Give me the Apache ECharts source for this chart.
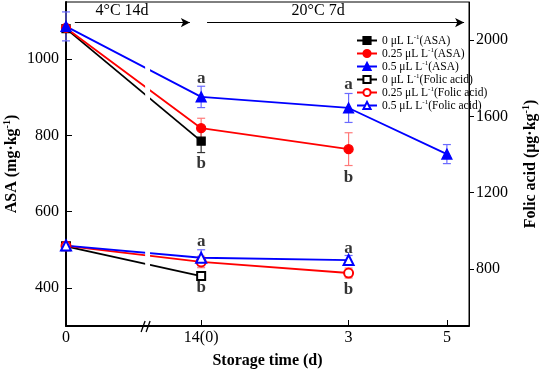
<!DOCTYPE html>
<html>
<head>
<meta charset="utf-8">
<script src="https://cdn.jsdelivr.net/npm/echarts@6/dist/echarts.min.js"></script>
<style>
  html, body { margin: 0; padding: 0; background: #fff; }
  #chart { width: 540px; height: 371px; }
</style>
</head>
<body>
<div id="chart"></div>
<script>
// broken time axis: 0 | 14(0) | 3 | 5  (axis units)
const xTicks = [0, 2.75, 5.75, 7.75];
const xTickLabels = ['0', '14(0)', '3', '5'];

// ASA, mg·kg-1 (left axis)
const asa0 = [1080, 785];
const asa025 = [1082, 819, 764];
const asa05 = [1086, 901, 872, 751];
const asa0Err = [0, 30];
const asa025Err = [0, 26, 43];
const asa05Err = [38, 28, 38, 25];

// Folic acid, µg·kg-1 (right axis)
const fa0 = [918, 762];
const fa025 = [920, 836, 778];
const fa05 = [922, 858, 846];
const fa0Err = [0, 8];
const fa025Err = [0, 30, 26];
const fa05Err = [0, 42, 24];

// significance letters: [x index, value, letter]
const asaLetters = [[1, 948, 'a'], [1, 727, 'b'], [2, 932, 'a'], [2, 688, 'b']];
const faLetters = [[1, 941, 'a'], [1, 700, 'b'], [2, 904, 'a'], [2, 689, 'b']];

const leftTicks = [400, 600, 800, 1000];
const rightTicks = [800, 1200, 1600, 2000];

const names = [
  '0 μL L-1(ASA)', '0.25 μL L-1(ASA)', '0.5 μL L-1(ASA)',
  '0 μL L-1(Folic acid)', '0.25 μL L-1(Folic acid)', '0.5 μL L-1(Folic acid)'
];

const FONT = 'Liberation Serif';
const BLACK = '#000000', RED = '#ff0000', BLUE = '#0000ff';

const chart = echarts.init(document.getElementById('chart'), null, { renderer: 'canvas' });

function pts(vals) {
  return vals.map((v, i) => [xTicks[i], v]);
}

function lineSeries(name, vals, color, symbol, size, axis) {
  return {
    name, type: 'line', yAxisIndex: axis, data: pts(vals),
    symbol, symbolSize: size, showSymbol: true, clip: false, z: 3,
    lineStyle: { color, width: 1.8 },
    itemStyle: { color, borderColor: color, borderWidth: 1.3 },
    emphasis: { disabled: true }
  };
}

function errorSeries(vals, errs, color, axis) {
  return {
    type: 'custom', yAxisIndex: axis, silent: true, z: 2,
    data: vals.map((v, i) => [xTicks[i], v - errs[i], v + errs[i], errs[i]]),
    renderItem: (params, api) => {
      if (!api.value(3)) return null;
      const lo = api.coord([api.value(0), api.value(1)]);
      const hi = api.coord([api.value(0), api.value(2)]);
      const w = 4;
      const st = { stroke: color, lineWidth: 1.2 };
      return {
        type: 'group', children: [
          { type: 'line', shape: { x1: lo[0], y1: lo[1], x2: hi[0], y2: hi[1] }, style: st },
          { type: 'line', shape: { x1: lo[0] - w, y1: lo[1], x2: lo[0] + w, y2: lo[1] }, style: st },
          { type: 'line', shape: { x1: hi[0] - w, y1: hi[1], x2: hi[0] + w, y2: hi[1] }, style: st }
        ]
      };
    }
  };
}

function letterSeries(list, axis) {
  return {
    type: 'scatter', yAxisIndex: axis, silent: true, symbolSize: 0,
    data: list.map(d => ({ value: [xTicks[d[0]], d[1]], label: { formatter: d[2] } })),
    label: { show: true, position: 'inside', color: '#000', fontFamily: FONT, fontSize: 17, fontWeight: 'bold' }
  };
}

// white gap in the lines plus the "//" break mark on the time axis
const breakSeries = {
  type: 'custom', silent: true, z: 10, yAxisIndex: 0,
  data: [[1.61, 1.71]],
  renderItem: (params, api) => {
    const a = api.coord([api.value(0), 1060]);
    const b = api.coord([api.value(1), 312]);
    const base = api.coord([(api.value(0) + api.value(1)) / 2, 300]);
    const cx = base[0] - 2;
    const st = { stroke: '#000', lineWidth: 1.3 };
    return {
      type: 'group', children: [
        { type: 'rect', shape: { x: a[0], y: a[1], width: b[0] - a[0], height: b[1] - a[1] }, style: { fill: '#fff' } },
        { type: 'line', shape: { x1: cx - 4.5, y1: base[1] + 6, x2: cx - 0.5, y2: base[1] - 5 }, style: st },
        { type: 'line', shape: { x1: cx + 0.5, y1: base[1] + 6, x2: cx + 4.5, y2: base[1] - 5 }, style: st }
      ]
    };
  }
};

const legendRich = {
  n: { fontFamily: FONT, fontSize: 11.5, color: '#000', lineHeight: 13 },
  sup: { fontFamily: FONT, fontSize: 7, color: '#000', verticalAlign: 'top', lineHeight: 13 }
};

const axisNameRich = {
  n: { fontFamily: FONT, fontSize: 16, fontWeight: 'bold', color: '#000', lineHeight: 20 },
  sup: { fontFamily: FONT, fontSize: 10, fontWeight: 'bold', color: '#000', verticalAlign: 'top', lineHeight: 20 }
};

const blueSeries = lineSeries(names[2], asa05, BLUE, 'triangle', 10, 0);
blueSeries.markLine = {
  silent: true, symbol: ['none', 'arrow'], symbolSize: [7, 9],
  lineStyle: { color: '#000', width: 1, type: 'solid' },
  label: { show: false },
  data: [
    [{ coord: [0.18, 1096] }, { coord: [2.52, 1096] }],
    [{ coord: [2.87, 1096] }, { coord: [8.1, 1096] }]
  ]
};
blueSeries.markPoint = {
  silent: true, symbol: 'rect', symbolSize: 0,
  label: { show: true, position: 'inside', color: '#000', fontFamily: FONT, fontSize: 16 },
  data: [
    { coord: [1.14, 1126], label: { formatter: '4°C 14d' } },
    { coord: [5.13, 1126], label: { formatter: '20°C 7d' } }
  ]
};

const option = {
  animation: false,
  backgroundColor: '#fff',
  grid: {
    left: 66, right: 71, top: 2, bottom: 45, containLabel: false, outerBoundsMode: 'none',
    show: true, borderColor: '#000', borderWidth: 1, backgroundColor: 'transparent'
  },
  legend: {
    data: names, orient: 'vertical', left: 351, top: 29,
    itemWidth: 20, itemHeight: 9, itemGap: 0.5,
    formatter: n => '{n|' + n.replace('-1', '}{sup|-1}{n|') + '}',
    textStyle: { rich: legendRich, fontFamily: FONT, fontSize: 11.5, color: '#000' }
  },
  xAxis: {
    type: 'value', min: 0, max: 8.2,
    name: 'Storage time (d)', nameLocation: 'middle', nameGap: 27, nameMoveOverlap: false,
    nameTextStyle: { fontFamily: FONT, fontSize: 16, fontWeight: 'bold', color: '#000' },
    axisLine: { show: true, onZero: false, lineStyle: { color: '#000', width: 2 } },
    axisTick: { show: true, inside: true, length: 6, customValues: xTicks.slice(1), lineStyle: { color: '#000', width: 1 } },
    axisLabel: {
      customValues: xTicks, color: '#000', fontFamily: FONT, fontSize: 16, margin: 4,
      formatter: v => {
        const i = xTicks.findIndex(t => Math.abs(t - v) < 1e-6);
        return i >= 0 ? xTickLabels[i] : '';
      }
    },
    splitLine: { show: false }
  },
  yAxis: [
    {
      type: 'value', min: 300, max: 1150, position: 'left',
      name: '{n|ASA (mg·kg}{sup|-1}{n|)}', nameLocation: 'middle', nameGap: 44, nameRotate: 90,
      nameMoveOverlap: false,
      nameTextStyle: { rich: axisNameRich },
      axisLine: { show: true, lineStyle: { color: '#000', width: 2 } },
      axisTick: { show: true, inside: true, length: 6, customValues: leftTicks, lineStyle: { color: '#000' } },
      axisLabel: { customValues: leftTicks, formatter: v => String(v), color: '#000', fontFamily: FONT, fontSize: 16, margin: 7 },
      splitLine: { show: false }
    },
    {
      type: 'value', min: 500, max: 2200, position: 'right',
      name: '{n|Folic acid (μg·kg}{sup|-1}{n|)}', nameLocation: 'middle', nameGap: 52, nameRotate: 90,
      nameMoveOverlap: false,
      nameTextStyle: { rich: axisNameRich },
      axisLine: { show: true, lineStyle: { color: '#000', width: 1 } },
      axisTick: { show: true, inside: false, length: 5, customValues: rightTicks, lineStyle: { color: '#000' } },
      axisLabel: { customValues: rightTicks, formatter: v => String(v), color: '#000', fontFamily: FONT, fontSize: 16, margin: 7 },
      splitLine: { show: false }
    }
  ],
  series: [
    errorSeries(asa0, asa0Err, '#333333', 0),
    errorSeries(asa025, asa025Err, '#ff7a7a', 0),
    errorSeries(asa05, asa05Err, '#6b6bff', 0),
    errorSeries(fa0, fa0Err, '#333333', 1),
    errorSeries(fa025, fa025Err, '#ff7a7a', 1),
    errorSeries(fa05, fa05Err, '#6b6bff', 1),
    lineSeries(names[0], asa0, BLACK, 'rect', 8, 0),
    lineSeries(names[1], asa025, RED, 'circle', 9, 0),
    blueSeries,
    lineSeries(names[3], fa0, BLACK, 'emptyRect', 8, 1),
    lineSeries(names[4], fa025, RED, 'emptyCircle', 9, 1),
    lineSeries(names[5], fa05, BLUE, 'emptyTriangle', 10, 1),
    letterSeries(asaLetters, 0),
    letterSeries(faLetters, 1),
    breakSeries
  ]
};

chart.setOption(option);
</script>
</body>
</html>
